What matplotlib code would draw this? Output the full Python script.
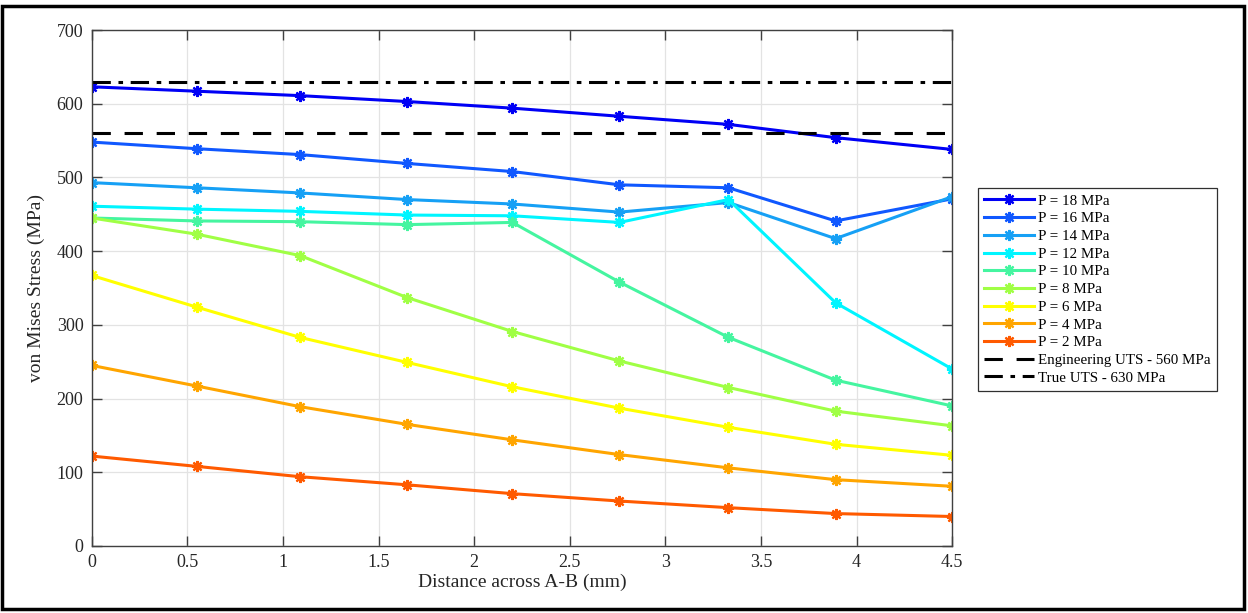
import matplotlib
matplotlib.use("Agg")
import matplotlib.pyplot as plt
from matplotlib.patches import Rectangle

plt.rcParams['font.family'] = ['Liberation Serif', 'DejaVu Serif']

distance = [0, 0.55, 1.09, 1.65, 2.2, 2.76, 3.33, 3.89, 4.5]
p18 = [623, 617, 611, 603, 594, 583, 572, 554, 538]
p16 = [548, 539, 531, 519, 508, 490, 486, 441, 471]
p14 = [493, 486, 479, 470, 464, 453, 466, 417, 474]
p12 = [461, 457, 454, 449, 448, 439, 470, 330, 240]
p10 = [445, 441, 440, 436, 439, 358, 283, 225, 190]
p8 = [445, 423, 394, 337, 291, 251, 215, 183, 163]
p6 = [367, 324, 283, 249, 216, 187, 161, 138, 123]
p4 = [245, 217, 189, 165, 144, 124, 106, 90, 81]
p2 = [122, 108, 94, 83, 71, 61, 52, 44, 40]

series = [p18, p16, p14, p12, p10, p8, p6, p4, p2]
labels = ['P = 18 MPa', 'P = 16 MPa', 'P = 14 MPa', 'P = 12 MPa', 'P = 10 MPa',
          'P = 8 MPa', 'P = 6 MPa', 'P = 4 MPa', 'P = 2 MPa']
colors = ['#0000F5', '#1058FF', '#16A0F5', '#00F5FF', '#45F5A0',
          '#A0FF45', '#FFFF00', '#FFA500', '#FF5A00']

eng_uts = 560
true_uts = 630
xlim = [0, 4.5]
ylim = [0, 700]

fig = plt.figure(figsize=(12.48, 6.13), dpi=100)
ax = fig.add_axes([0.0735, 0.1093, 0.6895, 0.8417])

for y, lab, c in zip(series, labels, colors):
    ax.plot(distance, y, color=c, lw=2.2, marker=(8, 2, 0), ms=8, mew=1.6,
            label=lab)

ax.plot(xlim, [eng_uts, eng_uts], color='black', lw=2.2, ls=(0, (6, 4.5)),
        label='Engineering UTS - 560 MPa')
ax.plot(xlim, [true_uts, true_uts], color='black', lw=2.2,
        ls=(0, (6, 2.5, 1.5, 2.5)), label='True UTS - 630 MPa')

ax.set_xlim(xlim)
ax.set_ylim(ylim)
ax.set_xticks([0, 0.5, 1, 1.5, 2, 2.5, 3, 3.5, 4, 4.5])
ax.set_xticklabels(['0', '0.5', '1', '1.5', '2', '2.5', '3', '3.5', '4', '4.5'])
ax.set_yticks(range(0, 701, 100))
ax.grid(True, color='#e3e3e3', lw=0.9)
ax.set_axisbelow(True)
ax.tick_params(direction='in', length=7, width=1, colors='#404040',
               labelcolor='#262626', labelsize=13, top=True, right=True,
               pad=6)
for s in ax.spines.values():
    s.set_color('#404040')
    s.set_linewidth(1.0)
ax.set_xlabel('Distance across A-B (mm)', fontsize=14, color='#262626',
              labelpad=2)
ax.set_ylabel('von Mises Stress (MPa)', fontsize=14, color='#262626',
              labelpad=8)

leg = ax.legend(loc='upper left', bbox_to_anchor=(0.784, 0.693),
                bbox_transform=fig.transFigure, fontsize=10.8, frameon=True,
                fancybox=False, edgecolor='#303030', framealpha=1,
                handlelength=3.3, handletextpad=0.3, labelspacing=0.28,
                borderpad=0.4, borderaxespad=0)
leg.get_frame().set_linewidth(0.9)

fig.patches.append(Rectangle((0.002, 0.006), 0.995, 0.985,
                             transform=fig.transFigure, fill=False,
                             edgecolor='black', lw=2.5))

fig.savefig('out.png', dpi=100)
